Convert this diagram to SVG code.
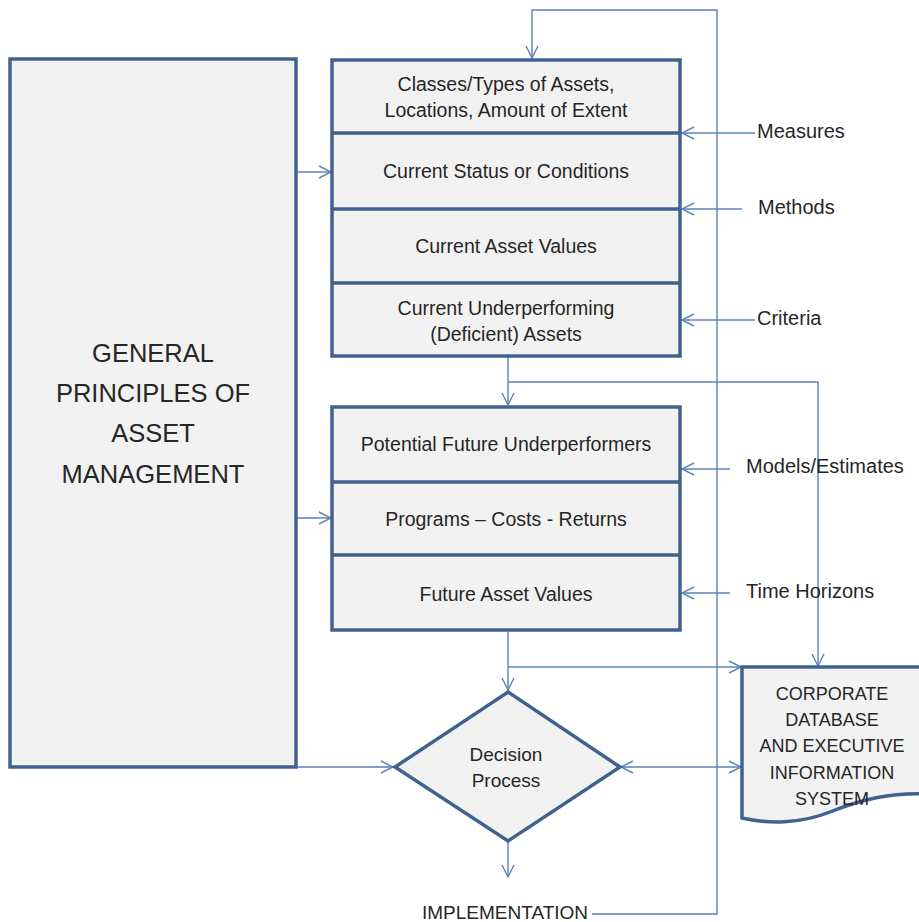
<svg xmlns="http://www.w3.org/2000/svg" width="919" height="922" viewBox="0 0 919 922">
<defs>
<style>
.node{fill:#F2F2F2;stroke:#41618F;stroke-width:3.5;stroke-linejoin:miter}
.div{stroke:#41618F;stroke-width:3.5}
.c{fill:none;stroke:#5B82BA;stroke-width:1.4}
text{font-family:"Liberation Sans",Arial,sans-serif;fill:#262626}
.t{font-size:19.5px;text-anchor:middle;dominant-baseline:central}
.d{font-size:19px;text-anchor:middle;dominant-baseline:central}
.db{font-size:18px;text-anchor:middle;dominant-baseline:central}
.big{font-size:25.5px;text-anchor:middle;dominant-baseline:central}
.lab{font-size:20px;dominant-baseline:central}
.imp{font-size:19px;dominant-baseline:central}
</style>
<marker id="ah" viewBox="0 0 14 14" refX="13" refY="7" markerWidth="14" markerHeight="14" markerUnits="userSpaceOnUse" orient="auto-start-reverse">
<path d="M1,1 L13,7 L1,13" fill="none" stroke="#5B82BA" stroke-width="1.4"/>
</marker>
</defs>
<rect width="919" height="922" fill="#FFFFFF"/>

<g id="connectors">
<path class="c" d="M592,914 H717 V10 H532 V58" marker-end="url(#ah)"/>
<path class="c" d="M296,172 H331" marker-end="url(#ah)"/>
<path class="c" d="M296,518 H331" marker-end="url(#ah)"/>
<path class="c" d="M755,133 H682" marker-end="url(#ah)"/>
<path class="c" d="M742,209 H682" marker-end="url(#ah)"/>
<path class="c" d="M755,320 H682" marker-end="url(#ah)"/>
<path class="c" d="M730,469 H682" marker-end="url(#ah)"/>
<path class="c" d="M730,593 H682" marker-end="url(#ah)"/>
<path class="c" d="M508,357 V405" marker-end="url(#ah)"/>
<path class="c" d="M508,382 H818 V666" marker-end="url(#ah)"/>
<path class="c" d="M508,632 V690" marker-end="url(#ah)"/>
<path class="c" d="M508,667 H741" marker-end="url(#ah)"/>
<path class="c" d="M296,767 H393" marker-end="url(#ah)"/>
<path class="c" d="M621,767 H741" marker-start="url(#ah)" marker-end="url(#ah)"/>
<path class="c" d="M508,842 V877" marker-end="url(#ah)"/>
</g>

<g id="general-principles">
<rect class="node" x="10" y="59" width="286" height="708"/>
<text class="big" x="153" y="353">GENERAL</text>
<text class="big" x="153" y="393">PRINCIPLES OF</text>
<text class="big" x="153" y="433">ASSET</text>
<text class="big" x="153" y="474">MANAGEMENT</text>
</g>

<g id="current-stack">
<rect class="node" x="332" y="60" width="348" height="296"/>
<line class="div" x1="332" y1="133" x2="680" y2="133"/>
<line class="div" x1="332" y1="209" x2="680" y2="209"/>
<line class="div" x1="332" y1="283" x2="680" y2="283"/>
<text class="t" x="506" y="84">Classes/Types of Assets,</text>
<text class="t" x="506" y="110">Locations, Amount of Extent</text>
<text class="t" x="506" y="171">Current Status or Conditions</text>
<text class="t" x="506" y="246">Current Asset Values</text>
<text class="t" x="506" y="308">Current Underperforming</text>
<text class="t" x="506" y="334">(Deficient) Assets</text>
</g>

<g id="future-stack">
<rect class="node" x="332" y="407" width="348" height="223"/>
<line class="div" x1="332" y1="482" x2="680" y2="482"/>
<line class="div" x1="332" y1="555" x2="680" y2="555"/>
<text class="t" x="506" y="444">Potential Future Underperformers</text>
<text class="t" x="506" y="519">Programs – Costs - Returns</text>
<text class="t" x="506" y="594">Future Asset Values</text>
</g>

<g id="decision">
<polygon class="node" points="508,692 620,767 508,841 395,767"/>
<text class="d" x="506" y="754">Decision</text>
<text class="d" x="506" y="780">Process</text>
</g>

<g id="database">
<path class="node" d="M742,667 H930 V794 C890,792 860,800 830,812 C800,824 768,824 742,818 Z"/>
<text class="db" x="832" y="694">CORPORATE</text>
<text class="db" x="832" y="720">DATABASE</text>
<text class="db" x="832" y="746">AND EXECUTIVE</text>
<text class="db" x="832" y="773">INFORMATION</text>
<text class="db" x="832" y="799">SYSTEM</text>
</g>

<g id="labels">
<text class="lab" x="757" y="131">Measures</text>
<text class="lab" x="758" y="207">Methods</text>
<text class="lab" x="757" y="318">Criteria</text>
<text class="lab" x="746" y="466">Models/Estimates</text>
<text class="lab" x="746" y="591">Time Horizons</text>
<text class="imp" x="422" y="912">IMPLEMENTATION</text>
</g>
</svg>
